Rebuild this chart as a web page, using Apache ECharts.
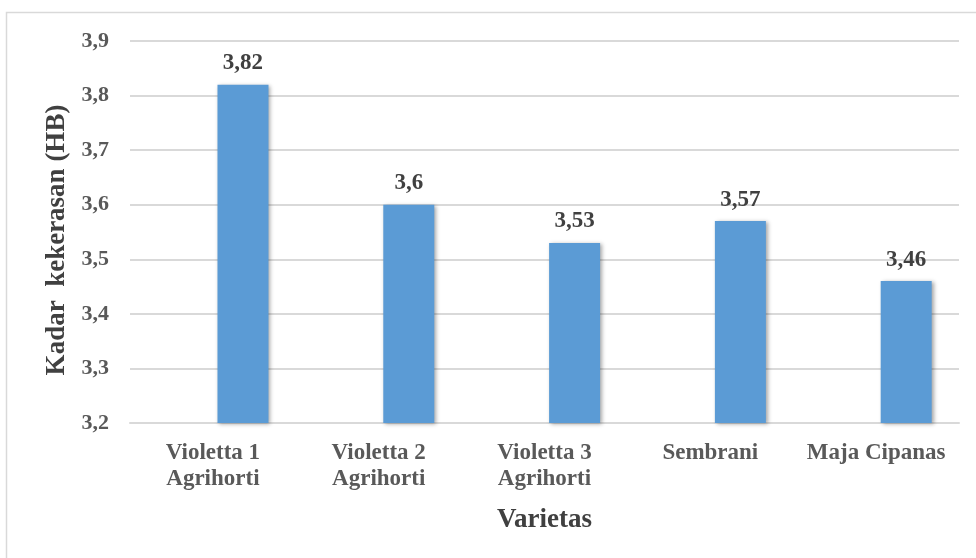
<!DOCTYPE html>
<html>
<head>
<meta charset="utf-8">
<script src="https://cdn.jsdelivr.net/npm/echarts@6/dist/echarts.min.js"></script>
<style>
  html, body { margin: 0; padding: 0; background: #fff; }
  #main { width: 976px; height: 558px; }
</style>
</head>
<body>
<div id="main"></div>
<script>
// data
var categories = ['Violetta 1\nAgrihorti', 'Violetta 2\nAgrihorti', 'Violetta 3\nAgrihorti', 'Sembrani', 'Maja Cipanas'];
var hardness = [3.82, 3.6, 3.53, 3.57, 3.46];
var emptySlot = ['-', '-', '-', '-', '-']; // kolom kosong di kiri (seperti di Excel)
var yTicks = [3.2, 3.3, 3.4, 3.5, 3.6, 3.7, 3.8, 3.9];

var font = '"Liberation Serif", "Times New Roman", serif';
var comma = function (v) { return String(v).replace('.', ','); };

var chart = echarts.init(document.getElementById('main'));

var option = {
  animation: false,
  graphic: [{
    type: 'rect',
    shape: { x: 6.5, y: 12.5, width: 1000, height: 600 },
    style: { fill: 'none', stroke: '#d9d9d9', lineWidth: 1.5 },
    silent: true
  }],
  grid: {
    left: 130,
    right: 17,
    top: 41,
    bottom: 135
  },
  xAxis: {
    type: 'category',
    data: categories,
    axisTick: { show: false },
    axisLine: { lineStyle: { color: '#d9d9d9', width: 2 } },
    axisLabel: {
      color: '#595959',
      fontFamily: font,
      fontWeight: 'bold',
      fontSize: 23,
      lineHeight: 26,
      margin: 17,
      interval: 0
    },
    name: 'Varietas',
    nameLocation: 'middle',
    nameGap: 84,
    nameTextStyle: { color: '#404040', fontFamily: font, fontWeight: 'bold', fontSize: 27 }
  },
  yAxis: {
    type: 'value',
    min: yTicks[0],
    max: yTicks[yTicks.length - 1],
    interval: 0.1,
    axisLine: { show: false },
    axisTick: { show: false },
    splitLine: { lineStyle: { color: '#d9d9d9', width: 2 } },
    axisLabel: {
      color: '#595959',
      fontFamily: font,
      fontWeight: 'bold',
      fontSize: 22,
      margin: 21,
      formatter: function (v) { return comma(Math.round(v * 10) / 10); }
    },
    name: 'Kadar  kekerasan (HB)',
    nameLocation: 'middle',
    nameGap: 58,
    nameTextStyle: {
      color: '#404040', fontFamily: font, fontWeight: 'bold', fontSize: 27,
      padding: [0, 16, 0, 0]
    }
  },
  series: [
    {
      type: 'bar',
      data: emptySlot,
      barWidth: 51,
      barGap: '18%',
      silent: true
    },
    {
      type: 'bar',
      data: hardness,
      barWidth: 51,
      itemStyle: {
        color: '#5b9bd5',
        shadowColor: 'rgba(0,0,0,0.35)',
        shadowBlur: 4,
        shadowOffsetX: 2,
        shadowOffsetY: 1
      },
      label: {
        show: true,
        position: 'top',
        distance: 10,
        color: '#404040',
        fontFamily: font,
        fontWeight: 'bold',
        fontSize: 23,
        formatter: function (p) { return comma(p.value); }
      }
    }
  ]
};

chart.setOption(option);
</script>
</body>
</html>
